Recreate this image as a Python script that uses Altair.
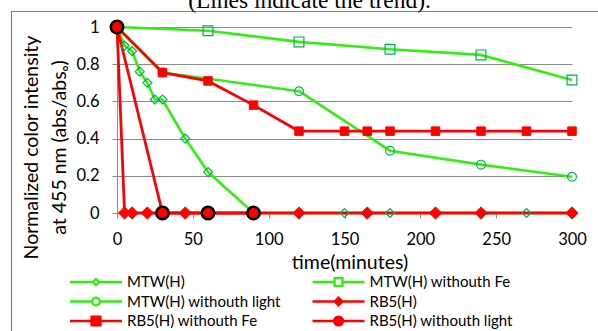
import altair as alt
import pandas as pd

# ---- data ----
series = ["MTW(H)", "MTW(H) withouth Fe", "MTW(H) withouth light",
          "RB5(H)", "RB5(H) withouth Fe", "RB5(H) withouth light"]

mtw_t = [0, 5, 10, 15, 20, 25, 30, 45, 60, 90, 120, 150, 180, 210, 240, 270, 300]
mtw_v = [1, 0.90, 0.87, 0.76, 0.70, 0.61, 0.61, 0.40, 0.22, 0, 0, 0, 0, 0, 0, 0, 0]

mtw_fe_t = [0, 60, 120, 180, 240, 300]
mtw_fe_v = [1, 0.98, 0.92, 0.88, 0.85, 0.715]

mtw_light_t = [0, 30, 120, 180, 240, 300]
mtw_light_v = [1, 0.755, 0.655, 0.335, 0.26, 0.195]

rb5_t = [0, 5, 10, 20, 30, 45, 60, 90, 120, 165, 210, 240, 300]
rb5_v = [1, 0, 0, 0, 0, 0, 0, 0, 0, 0, 0, 0, 0]

rb5_fe_t = [0, 30, 60, 90, 120, 150, 165, 180, 210, 240, 270, 300]
rb5_fe_v = [1, 0.755, 0.71, 0.58, 0.44, 0.44, 0.44, 0.44, 0.44, 0.44, 0.44, 0.44]

rb5_light_t = [0, 30, 60, 90]
rb5_light_v = [1, 0, 0, 0]

x_ticks = [0, 50, 100, 150, 200, 250, 300]
y_ticks = [0, 0.2, 0.4, 0.6, 0.8, 1]

# ---- styles ----
line_colors = ["#33EE11", "#33EE11", "#33EE11", "#FF0000", "#FF0000", "#FF0000"]
shapes = ["diamond", "square", "circle", "diamond", "square", "circle"]
fills = ["transparent", "transparent", "transparent", "#FF0000", "#FF0000", "#FF0000"]
strokes = ["#00B050", "#00B050", "#00B050", "#FF0000", "#FF0000", "#000000"]
sizes = [80, 96, 77, 150, 72, 156]
stroke_ws = [1.2, 1.2, 1.2, 1, 1, 2.5]

# legend symbols: a line segment with the series marker in its middle
# (unit box -1..1 spans the whole 52 px segment)
legend_paths = [
    "M-1,0H-0.115M0.115,0H1M-0.115,0L0,-0.115L0.115,0L0,0.115Z",
    "M-1,0H-0.15M0.15,0H1M-0.15,-0.15H0.15V0.15H-0.15Z",
    "M-1,0H-0.15M0.15,0H1M-0.15,0A0.15,0.15,0,1,0,0.15,0A0.15,0.15,0,1,0,-0.15,0Z",
    "M-1,0H1M-0.145,0L0,-0.145L0.145,0L0,0.145Z",
    "M-1,0H1M-0.17,-0.17H0.17V0.17H-0.17Z",
    "M-1,0H1M-0.17,0A0.17,0.17,0,1,0,0.17,0A0.17,0.17,0,1,0,-0.17,0Z",
]

pairs = [(mtw_t, mtw_v), (mtw_fe_t, mtw_fe_v), (mtw_light_t, mtw_light_v),
         (rb5_t, rb5_v), (rb5_fe_t, rb5_fe_v), (rb5_light_t, rb5_light_v)]
rows = []
for name, (ts, vs) in zip(series, pairs):
    for t, v in zip(ts, vs):
        rows.append({"s": name, "t": t, "v": v})
df = pd.DataFrame(rows)

FONT = "Lato"
LAB = 15

x_axis = alt.Axis(values=x_ticks, title="time(minutes)", grid=False,
                  titleX=232.5, titleY=49, titleBaseline="middle",
                  labelPadding=13, labelFlush=False, labelOverlap=False)
y_axis = alt.Axis(values=y_ticks, format="~g",
                  title=["Normalized color intensity", "at 455 nm (abs/absₒ)"],
                  titleX=-86, titleY=120, titleAngle=270,
                  titleAlign="center", titleBaseline="middle",
                  titleLineHeight=28, labelPadding=13, grid=True,
                  labelFlush=False, labelOverlap=False)
x_scale = alt.Scale(domain=[0, 300], nice=False, zero=False)
y_scale = alt.Scale(domain=[0, 1], nice=False)
X = alt.X("t:Q", scale=x_scale, axis=x_axis)
Y = alt.Y("v:Q", scale=y_scale, axis=y_axis)

legend = alt.Legend(orient="none", legendX=-48.5, legendY=247, direction="horizontal",
                    columns=2, columnPadding=29.5, rowPadding=3.5,
                    symbolSize=2704, symbolStrokeWidth=2.4, labelFont=FONT,
                    labelFontSize=LAB, labelColor="black", labelOffset=3.5,
                    clipHeight=16, title=None, padding=0, labelLimit=400)

one = pd.DataFrame({"a": [0]})
frame_top = alt.Chart(one).mark_rule(color="#808080", strokeWidth=1, opacity=1).encode(
    x=alt.value(-106), x2=alt.value(700), y=alt.value(-15.5))
frame_left = alt.Chart(one).mark_rule(color="#808080", strokeWidth=1, opacity=1).encode(
    x=alt.value(-105.5), y=alt.value(-16), y2=alt.value(500))

title = alt.Chart(one).mark_text(
    text="(Lines indicate the trend).", font="Liberation Serif", fontSize=23.5,
    align="center", baseline="alphabetic", color="black"
).encode(x=alt.value(192.5), y=alt.value(-19))

line_layers = []
point_layers = []
for i, name in enumerate(series):
    base = alt.Chart(df).transform_filter(alt.datum.s == name)
    line_layers.append(
        base.mark_line(strokeJoin="round", strokeWidth=2.8 if i >= 3 else 2.6,
                       color=line_colors[i]).encode(x=X, y=Y))
    point_layers.append(
        base.mark_point(shape=shapes[i], filled=True, fill=fills[i], stroke=strokes[i],
                        size=sizes[i], strokeWidth=stroke_ws[i], opacity=1).encode(x=X, y=Y))

legend_layer = alt.Chart(df).transform_filter("false").mark_point(
    filled=True, opacity=1
).encode(
    x=X, y=Y,
    shape=alt.Shape("s:N", scale=alt.Scale(domain=series, range=legend_paths), legend=legend),
    fill=alt.Fill("s:N", scale=alt.Scale(domain=series, range=fills), legend=legend),
    stroke=alt.Stroke("s:N", scale=alt.Scale(domain=series, range=line_colors), legend=legend),
)

chart = alt.layer(frame_top, frame_left, title, *line_layers, *point_layers,
                  legend_layer).properties(
    width=455, height=186,
    autosize=alt.AutoSizeParams(type="none"),
    padding={"left": 117, "top": 27, "right": 26, "bottom": 118},
).configure(font=FONT).configure_view(strokeWidth=0).configure_axis(
    domainColor="#8C8C8C", tickColor="#8C8C8C", gridColor="#8C8C8C",
    domainWidth=1, tickWidth=1, gridWidth=1, tickSize=5,
    labelFont=FONT, labelFontSize=16.5, labelColor="black",
    titleFont=FONT, titleFontSize=19.5, titleFontWeight="normal", titleColor="black",
)

chart.save("out.html", embed_options={"renderer": "svg", "actions": False})
